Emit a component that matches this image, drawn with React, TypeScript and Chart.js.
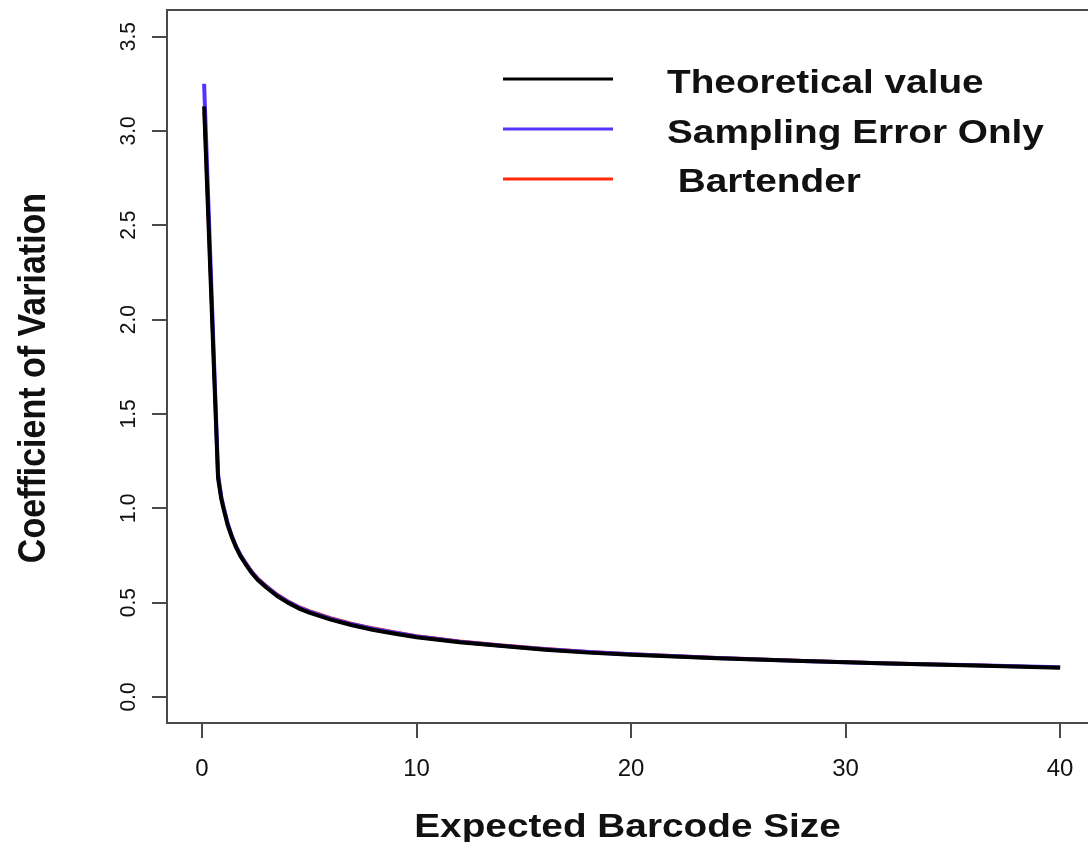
import React, { useEffect, useRef } from "react";
import { Chart, registerables } from "chart.js";

Chart.register(...registerables);

// Expected barcode size (x) and coefficient of variation for each series
const expectedSize = [0.1, 0.75, 0.9, 1.0, 1.2, 1.4, 1.6, 1.8, 2.0, 2.3, 2.6, 3, 3.5, 4, 4.5, 5, 6, 7, 8, 9, 10, 12, 14, 16, 18, 20, 24, 28, 32, 36, 40];
const theoreticalCV = [3.13, 1.16, 1.05, 1.0, 0.91, 0.845, 0.79, 0.745, 0.71, 0.66, 0.62, 0.58, 0.535, 0.5, 0.47, 0.447, 0.41, 0.38, 0.355, 0.335, 0.316, 0.29, 0.27, 0.25, 0.235, 0.224, 0.205, 0.19, 0.177, 0.167, 0.155];
const samplingCV = [3.25, 1.18, 1.06, 1.01, 0.92, 0.85, 0.795, 0.75, 0.715, 0.665, 0.625, 0.585, 0.54, 0.505, 0.475, 0.452, 0.415, 0.385, 0.36, 0.34, 0.32, 0.293, 0.272, 0.253, 0.238, 0.226, 0.207, 0.191, 0.178, 0.168, 0.157];
const bartenderCV = [3.1, 1.17, 1.06, 1.01, 0.92, 0.855, 0.8, 0.755, 0.72, 0.67, 0.63, 0.59, 0.545, 0.51, 0.48, 0.457, 0.42, 0.39, 0.365, 0.344, 0.325, 0.297, 0.276, 0.257, 0.241, 0.229, 0.209, 0.193, 0.18, 0.169, 0.157];

const xTicks = [0, 10, 20, 30, 40];
const yTicks = [0, 0.5, 1, 1.5, 2, 2.5, 3, 3.5];
const seriesNames = ["Theoretical value", "Sampling Error Only", " Bartender"];
const seriesColors = ["#000000", "#5533ff", "#ff2a0a"];
const seriesWidths = [4, 4, 3];
const xTitle = "Expected Barcode Size";
const yTitle = "Coefficient of Variation";

const FONT = '"Liberation Sans", Arial, Helvetica, sans-serif';
const TEXT = "#111111";
const AXIS = "#4a4a4a";
const WIDE = 1.14;

function drawText(
  ctx: CanvasRenderingContext2D,
  text: string,
  x: number,
  y: number,
  font: string,
  align: CanvasTextAlign,
  vertical: boolean,
  stretch: number
) {
  ctx.save();
  ctx.translate(x, y);
  if (vertical) {
    ctx.rotate(-Math.PI / 2);
    ctx.scale(1, stretch);
  } else {
    ctx.scale(stretch, 1);
  }
  ctx.font = font;
  ctx.fillStyle = TEXT;
  ctx.textAlign = align;
  ctx.textBaseline = "alphabetic";
  ctx.fillText(text, 0, 0);
  ctx.restore();
}

const decorations = {
  id: "decorations",
  afterDraw(chart: any) {
    const ctx: CanvasRenderingContext2D = chart.ctx;
    const area = chart.chartArea;
    const xs = chart.scales.x;
    const ys = chart.scales.y;

    // top edge of the plot box
    ctx.save();
    ctx.strokeStyle = AXIS;
    ctx.lineWidth = 2;
    ctx.beginPath();
    ctx.moveTo(area.left - 1, area.top);
    ctx.lineTo(area.right + 10, area.top);
    ctx.stroke();
    ctx.restore();

    // tick labels
    xs.ticks.forEach((t: any) => {
      drawText(ctx, String(t.value), xs.getPixelForValue(t.value), 776, `24px ${FONT}`, "center", false, 1);
    });
    ys.ticks.forEach((t: any) => {
      drawText(ctx, Number(t.value).toFixed(1), 135, ys.getPixelForValue(t.value), `21px ${FONT}`, "center", true, 1.05);
    });

    // axis titles
    drawText(ctx, xTitle, (area.left + area.right) / 2, 837, `bold 34px ${FONT}`, "center", false, WIDE);
    drawText(ctx, yTitle, 45, 378, `bold 34px ${FONT}`, "center", true, WIDE);

    // legend
    const lineY = [79, 129, 179];
    const textY = [92.5, 142.5, 192];
    chart.data.datasets.forEach((ds: any, i: number) => {
      ctx.save();
      ctx.strokeStyle = ds.borderColor;
      ctx.lineWidth = 3;
      ctx.beginPath();
      ctx.moveTo(503, lineY[i]);
      ctx.lineTo(613, lineY[i]);
      ctx.stroke();
      ctx.restore();
      drawText(ctx, ds.label, 667, textY[i], `bold 34px ${FONT}`, "left", false, WIDE);
    });
  },
};

function points(ys: number[]) {
  return expectedSize.map((x, i) => ({ x, y: ys[i] }));
}

export default function App() {
  const ref = useRef<HTMLCanvasElement>(null);

  useEffect(() => {
    const series = [theoreticalCV, samplingCV, bartenderCV];
    const chart = new Chart(ref.current as HTMLCanvasElement, {
      type: "scatter",
      data: {
        datasets: series.map((s, i) => ({
          label: seriesNames[i],
          data: points(s),
          showLine: true,
          borderColor: seriesColors[i],
          backgroundColor: seriesColors[i],
          borderWidth: seriesWidths[i],
          pointRadius: 0,
          tension: 0,
          borderJoinStyle: "round" as const,
          borderCapStyle: "butt" as const,
        })),
      },
      options: {
        animation: false,
        responsive: false,
        devicePixelRatio: 1,
        layout: { padding: { top: 10, left: 0, right: 0, bottom: 0 } },
        plugins: { legend: { display: false }, tooltip: { enabled: false } },
        scales: {
          x: {
            type: "linear",
            min: -1.63,
            max: 41.3,
            afterBuildTicks: (s: any) => {
              s.ticks = xTicks.map((v) => ({ value: v }));
            },
            afterFit: (s: any) => {
              s.height = 119;
            },
            ticks: { display: false },
            grid: {
              display: true,
              drawOnChartArea: false,
              drawTicks: true,
              tickLength: 15,
              color: AXIS,
              lineWidth: 2,
            },
            border: { display: true, color: AXIS, width: 2 },
          },
          y: {
            type: "linear",
            min: -0.138,
            max: 3.641,
            afterBuildTicks: (s: any) => {
              s.ticks = yTicks.map((v) => ({ value: v }));
            },
            afterFit: (s: any) => {
              s.width = 167;
            },
            ticks: { display: false },
            grid: {
              display: true,
              drawOnChartArea: false,
              drawTicks: true,
              tickLength: 15,
              color: AXIS,
              lineWidth: 2,
            },
            border: { display: true, color: AXIS, width: 2 },
          },
        },
      },
      plugins: [decorations],
    });
    return () => chart.destroy();
  }, []);

  return (
    <div style={{ position: "fixed", left: 0, top: 0, width: 1088, height: 842, background: "#ffffff" }}>
      <canvas ref={ref} width={1088} height={842} style={{ display: "block", width: 1088, height: 842 }} />
    </div>
  );
}
